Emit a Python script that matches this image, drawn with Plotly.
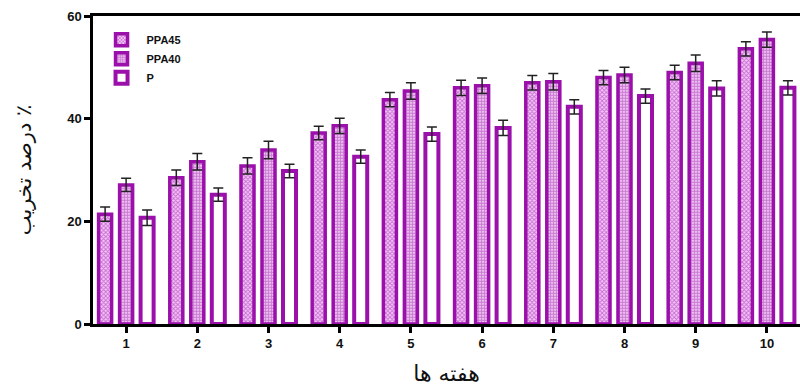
import plotly.graph_objects as go

weeks = ["1", "2", "3", "4", "5", "6", "7", "8", "9", "10"]
ppa45 = [21.4, 28.5, 30.8, 37.2, 43.7, 46.0, 47.0, 48.0, 49.0, 53.6]
ppa40 = [27.1, 31.6, 33.9, 38.6, 45.4, 46.4, 47.2, 48.5, 50.8, 55.4]
p_vals = [20.7, 25.2, 29.8, 32.6, 37.0, 38.2, 42.3, 44.4, 45.9, 46.0]
err45 = [1.4, 1.5, 1.6, 1.3, 1.4, 1.5, 1.4, 1.4, 1.4, 1.4]
err40 = [1.3, 1.6, 1.7, 1.5, 1.6, 1.5, 1.6, 1.5, 1.6, 1.5]
errp = [1.5, 1.3, 1.3, 1.3, 1.4, 1.5, 1.4, 1.4, 1.5, 1.4]

purple = "#9b10ab"
x = list(range(1, 11))

fig = go.Figure()
common_err = dict(type="data", color="#222222", thickness=1.5, width=5)
fig.add_trace(go.Bar(
    name="PPA45", x=x, y=ppa45,
    error_y=dict(array=err45, **common_err),
    marker=dict(color="white", line=dict(color=purple, width=3.5),
                pattern=dict(shape="x", fgcolor=purple, bgcolor="#f4c8f7", size=3, solidity=0.5)),
))
fig.add_trace(go.Bar(
    name="PPA40", x=x, y=ppa40,
    error_y=dict(array=err40, **common_err),
    marker=dict(color="white", line=dict(color=purple, width=3.5),
                pattern=dict(shape=".", fgcolor=purple, bgcolor="#fbe6fc", size=3, solidity=0.7)),
))
fig.add_trace(go.Bar(
    name="P", x=x, y=p_vals,
    error_y=dict(array=errp, **common_err),
    marker=dict(color="white", line=dict(color=purple, width=4)),
))

fig.update_layout(
    width=800, height=387,
    margin=dict(l=93, r=0, t=16, b=63, autoexpand=False),
    paper_bgcolor="white", plot_bgcolor="white",
    barmode="group", bargap=0.115, bargroupgap=0.38,
    font=dict(family="Liberation Sans, Arial", color="#111111", size=12),
    showlegend=True,
    legend=dict(x=0.005, y=0.97, xanchor="left", yanchor="top",
                bgcolor="rgba(0,0,0,0)", tracegroupgap=0,
                font=dict(size=11, family="Liberation Sans, Arial", color="#111111", weight="bold"),
                itemwidth=40),
    xaxis=dict(
        range=[0.535, 10.465], tickmode="array", tickvals=x, ticktext=weeks,
        showgrid=False, zeroline=False, automargin=False,
        showline=True, linecolor="black", linewidth=2.5, mirror=True,
        ticks="outside", ticklen=6, tickwidth=2.5, tickcolor="black",
        tickfont=dict(size=13, family="Liberation Sans, Arial", weight="bold"),
        title=dict(text="هفته ها", font=dict(size=22, family="DejaVu Sans"), standoff=16),
    ),
    yaxis=dict(
        range=[0, 60], tickvals=[0, 20, 40, 60],
        showgrid=False, zeroline=False, automargin=False,
        showline=True, linecolor="black", linewidth=2.5,
        ticks="outside", ticklen=6, tickwidth=2.5, tickcolor="black",
        tickfont=dict(size=13, family="Liberation Sans, Arial", weight="bold"),
        title=dict(text="درصد تخریب ٪", font=dict(size=21, family="DejaVu Sans"), standoff=30),
    ),
)

fig.write_html("out.html", config={"displayModeBar": False},
               post_script="document.body.style.margin='0';")
